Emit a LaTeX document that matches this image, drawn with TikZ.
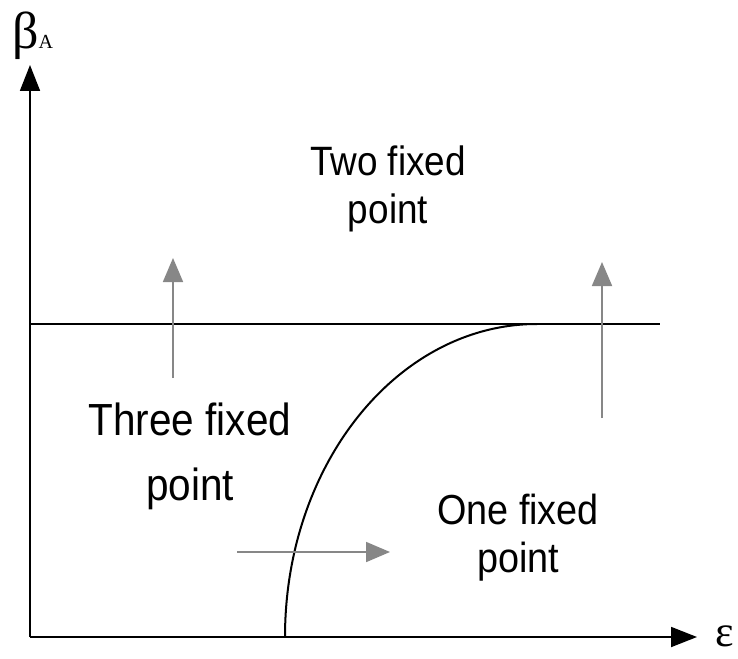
\documentclass[tikz,border=0pt]{standalone}
\usepackage{fontspec}
\setmainfont{Liberation Sans}[FakeStretch=0.9]
\newfontfamily\greekfont{Liberation Serif}
\usetikzlibrary{arrows.meta}
\definecolor{moveGray}{RGB}{135,135,135}
\tikzset{
    axis/.style={line width=1.8pt,-{Triangle[length=26pt,width=20pt]}},
    bound/.style={line width=2pt},
    move/.style={draw=moveGray,line width=1.8pt,-{Triangle[length=24pt,width=20pt]}},
    region/.style={align=center,inner sep=0pt},
    sym/.style={inner sep=0pt,font=\greekfont}
}
\begin{document}
\begin{tikzpicture}[x=1pt,y=-1pt]
    \useasboundingbox (0,0) rectangle (738,658);
    % axes
    \coordinate (O)    at (30,637);
    \coordinate (ytip) at (30,65);
    \coordinate (xtip) at (697,637);
    \draw[axis] (O) -- (ytip);
    \draw[axis] (O) -- (xtip);
    \node[sym,anchor=base west] (beta) at (12,49)
        {\fontsize{52}{52}\selectfont β\fontsize{20}{20}\selectfont A};
    \node[sym,anchor=base] (eps) at (725,646) {\fontsize{44}{44}\selectfont ε};
    % phase boundaries
    \coordinate (hl) at (30,324);
    \coordinate (hr) at (660,324);
    \coordinate (cb) at (285,637);
    \coordinate (ct) at (537,324);
    \draw[bound] (hl) -- (hr);
    \draw[bound] (cb) .. controls (285,464) and (398,324) .. (ct);
    % direction arrows
    \coordinate (m1a) at (173,378);
    \coordinate (m1b) at (173,258);
    \coordinate (m2a) at (602,418);
    \coordinate (m2b) at (602,262);
    \coordinate (m3a) at (237,552);
    \coordinate (m3b) at (390,552);
    \draw[move] (m1a) -- (m1b);
    \draw[move] (m2a) -- (m2b);
    \draw[move] (m3a) -- (m3b);
    % regions
    \node[region,font=\fontsize{41}{48}\selectfont] (two)   at (388,189) {Two fixed\\point};
    \node[region,font=\fontsize{45}{65}\selectfont] (three) at (190,456) {Three fixed\\point};
    \node[region,font=\fontsize{42}{48}\selectfont] (one)   at (518,538) {One fixed\\point};
\end{tikzpicture}
\end{document}
